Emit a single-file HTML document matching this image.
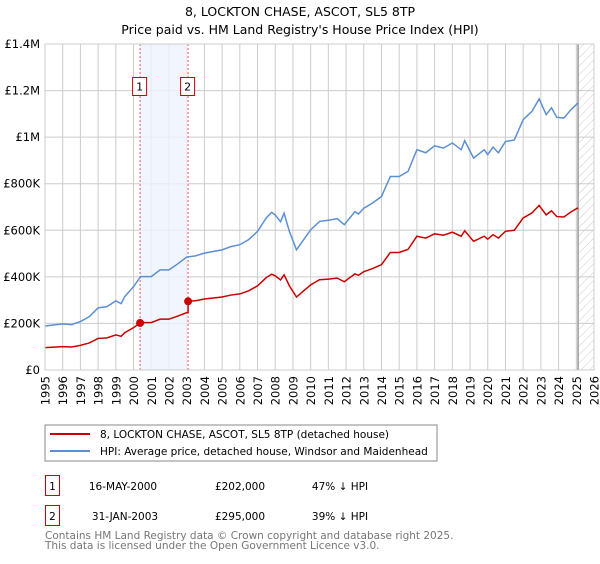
<!DOCTYPE html>
<html><head><meta charset="utf-8"><style>
body{margin:0;background:#fff;font-family:"DejaVu Sans","Liberation Sans",sans-serif;}
svg text{font-family:"DejaVu Sans","Liberation Sans",sans-serif;}
</style></head><body>
<svg id="chart" width="600" height="560" xmlns="http://www.w3.org/2000/svg">
<defs><pattern id="hatch" width="6" height="6" patternUnits="userSpaceOnUse" patternTransform="rotate(45)"><line x1="0" y1="0" x2="0" y2="6" stroke="#ccc" stroke-width="1"/></pattern></defs>
<text x="300" y="16" text-anchor="middle" font-size="12.5" fill="#000">8, LOCKTON CHASE, ASCOT, SL5 8TP</text>
<text x="300" y="34" text-anchor="middle" font-size="12.5" fill="#000">Price paid vs. HM Land Registry's House Price Index (HPI)</text>
<g id="grid"></g><g id="bands"></g><g id="lines"></g><g id="axes"></g>
<rect x="45" y="425" width="392" height="36" fill="#fff" stroke="#888"/>
<line x1="50" y1="434" x2="90" y2="434" stroke="#cc0000" stroke-width="2"/>
<text x="100" y="438" font-size="10.5">8, LOCKTON CHASE, ASCOT, SL5 8TP (detached house)</text>
<line x1="50" y1="451" x2="90" y2="451" stroke="#5b8fd4" stroke-width="2"/>
<text x="100" y="455" font-size="10.5">HPI: Average price, detached house, Windsor and Maidenhead</text>
<g>
<rect x="45.5" y="475.5" width="14" height="20" fill="#fff" stroke="#cc0000"/><text x="52.5" y="490" text-anchor="middle" font-size="10.5">1</text>
<text x="123" y="490" text-anchor="middle" font-size="10.5">16-MAY-2000</text>
<text x="240" y="490" text-anchor="middle" font-size="10.5">£202,000</text>
<text x="340" y="490" text-anchor="middle" font-size="10.5">47% ↓ HPI</text></g>
<g>
<rect x="45.5" y="505.5" width="14" height="20" fill="#fff" stroke="#cc0000"/><text x="52.5" y="520" text-anchor="middle" font-size="10.5">2</text>
<text x="125" y="520" text-anchor="middle" font-size="10.5">31-JAN-2003</text>
<text x="240" y="520" text-anchor="middle" font-size="10.5">£295,000</text>
<text x="340" y="520" text-anchor="middle" font-size="10.5">39% ↓ HPI</text></g>
<text x="45" y="539" font-size="10.5" fill="#777">Contains HM Land Registry data © Crown copyright and database right 2025.</text>
<text x="45" y="549" font-size="10.5" fill="#777">This data is licensed under the Open Government Licence v3.0.</text>
</svg>
<script>
const hpiYears=[1995,1996,1996.5,1997,1997.5,1998,1998.5,1999,1999.3,1999.5,2000,2000.4,2001,2001.5,2002,2002.5,2003,2003.5,2004,2004.5,2005,2005.5,2006,2006.5,2007,2007.5,2007.8,2008,2008.3,2008.5,2008.8,2009.2,2009.6,2010,2010.5,2011,2011.5,2011.9,2012.5,2012.7,2013,2013.5,2014,2014.5,2015,2015.5,2016,2016.5,2017,2017.5,2018,2018.5,2018.7,2019.2,2019.8,2020,2020.3,2020.6,2021,2021.5,2022,2022.5,2022.9,2023.3,2023.6,2023.9,2024.3,2024.7,2025.1];
const hpiValues=[189,198,195,208,229,267,272,297,285,315,358,401,401,430,430,456,485,490,502,509,516,530,538,560,595,654,677,666,637,673,595,516,559,602,638,643,650,624,680,670,695,717,745,831,831,853,946,933,963,953,975,946,985,910,946,925,957,933,981,988,1075,1111,1164,1097,1126,1085,1082,1118,1147];
const saleLabels=["1","2"];
const saleYears=[2000.37,2003.08];
const salePrices=[202,295];
const xTicks=[1995,1996,1997,1998,1999,2000,2001,2002,2003,2004,2005,2006,2007,2008,2009,2010,2011,2012,2013,2014,2015,2016,2017,2018,2019,2020,2021,2022,2023,2024,2025,2026];
const yTicks=[0,200,400,600,800,1000,1200,1400];
const yTickLabels=["£0","£200K","£400K","£600K","£800K","£1M","£1.2M","£1.4M"];
const dataEnd=2025.1;
const NS="http://www.w3.org/2000/svg";
const X0=45,X1=594,Y0=370,Y1=44;
const x=v=>X0+(v-1995)/(2026-1995)*(X1-X0);
const y=v=>Y0-(v/1400)*(Y0-Y1);
function mk(tag,attrs,parent){const e=document.createElementNS(NS,tag);for(const k in attrs)e.setAttribute(k,attrs[k]);document.getElementById(parent).appendChild(e);return e;}
function hpiAt(t){for(let i=1;i<hpiYears.length;i++){if(t<=hpiYears[i]){const f=(t-hpiYears[i-1])/(hpiYears[i]-hpiYears[i-1]);return hpiValues[i-1]+f*(hpiValues[i]-hpiValues[i-1]);}}return hpiValues[hpiValues.length-1];}
xTicks.forEach(t=>{const l=mk('line',{x1:x(t),x2:x(t),y1:Y1,y2:Y0,stroke:'#ccc'},'grid');


const tx=mk('text',{x:0,y:0,'text-anchor':'end','font-size':'11.5',transform:'translate('+(x(t)+4.5)+',376) rotate(-90)'},'axes');tx.textContent=t;

});
yTicks.forEach((t,i)=>{const l=mk('line',{x1:X0,x2:X1,y1:y(t),y2:y(t),stroke:'#ccc'},'grid');


const tx=mk('text',{x:X0-5,y:y(t)+4,'text-anchor':'end','font-size':'11.5'},'axes');tx.textContent=yTickLabels[i];

});
const band=mk('rect',{x:x(saleYears[0]),y:Y1,width:x(saleYears[1])-x(saleYears[0]),height:Y0-Y1,fill:'#eef3fd',opacity:0.8},'bands');


const hatch=mk('rect',{x:x(dataEnd),y:Y1,width:X1-x(dataEnd),height:Y0-Y1,fill:'url(#hatch)'},'bands');


const endLine=mk('line',{x1:x(dataEnd),x2:x(dataEnd),y1:Y1,y2:Y0,stroke:'#999','stroke-width':1.5},'bands');


saleYears.forEach((s,i)=>{const l=mk('line',{x1:x(s),x2:x(s),y1:Y1,y2:Y0,stroke:'#e06060','stroke-dasharray':'2,2'},'bands');


const r=mk('rect',{x:x(s)-7.5,y:77.5,width:14,height:18,fill:'#fff',stroke:'#cc0000'},'bands');


const tx=mk('text',{x:x(s)-0.5,y:90.5,'text-anchor':'middle','font-size':'11'},'bands');tx.textContent=saleLabels[i];

});
const hp=mk('polyline',{points:hpiYears.map((t,i)=>x(t)+','+y(hpiValues[i])).join(' '),fill:'none',stroke:'#5b8fd4','stroke-width':1.5},'lines');


function propAt(t){let k=0;for(let i=0;i<saleYears.length;i++)if(t>=saleYears[i])k=i;return salePrices[k]*hpiAt(t)/hpiAt(saleYears[k]);}
const pts=[];const times=hpiYears.concat(saleYears,[saleYears[1]-0.001]).sort((a,b)=>a-b);
times.forEach(t=>pts.push(x(t)+','+y(propAt(t))));
const pl=mk('polyline',{points:pts.join(' '),fill:'none',stroke:'#cc0000','stroke-width':1.5},'lines');


saleYears.forEach((s,i)=>{const c=mk('circle',{cx:x(s),cy:y(salePrices[i]),r:4,fill:'#cc0000'},'lines');

});
const frame=mk('rect',{x:X0,y:Y1,width:X1-X0,height:Y0-Y1,fill:'none',stroke:'#ccc'},'axes');


</script>
</body></html>
